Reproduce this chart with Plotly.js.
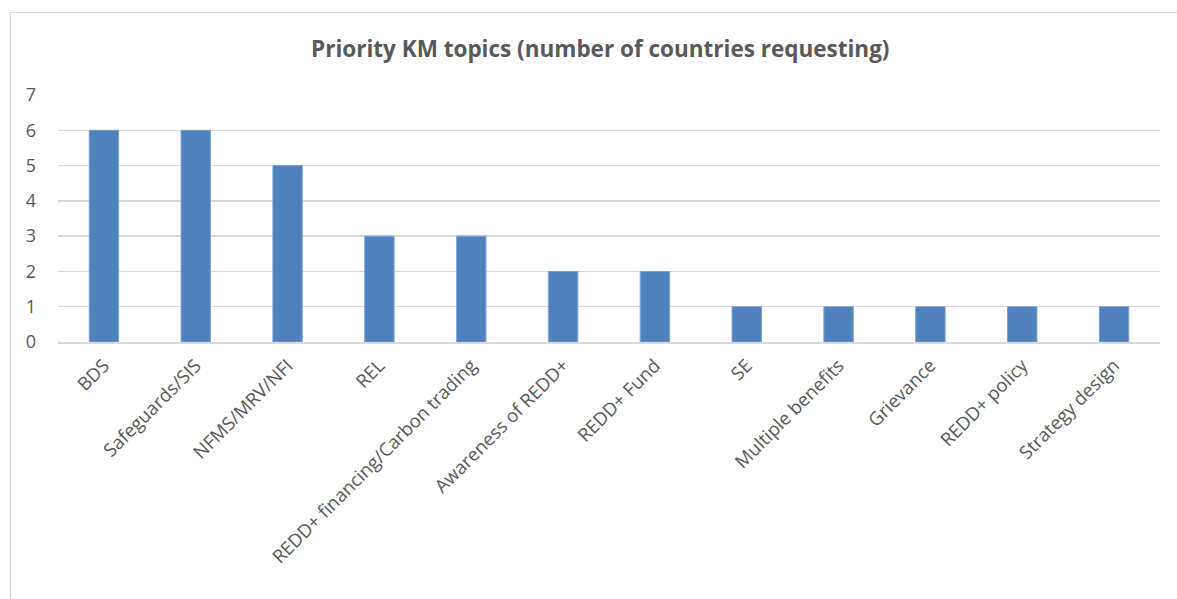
<!DOCTYPE html>
<html>
<head>
<meta charset="utf-8">
<script src="https://cdn.plot.ly/plotly-3.0.1.min.js"></script>
<style>
html,body{margin:0;padding:0;background:#fff;}
#frame{position:absolute;left:10px;top:12px;width:1300px;height:700px;border-left:1.5px solid #d9d9d9;border-top:1.5px solid #d9d9d9;}
#chart{position:absolute;left:0;top:0;width:1177px;height:599px;}
</style>
</head>
<body>
<div id="frame"></div>
<div id="chart"></div>
<script>
const categories = ["BDS","Safeguards/SIS","NFMS/MRV/NFI","REL","REDD+ financing/Carbon trading","Awareness of REDD+","REDD+ Fund","SE","Multiple benefits","Grievance","REDD+ policy","Strategy design"];
const countries = [6,6,5,3,3,2,2,1,1,1,1,1];
const yTicks = [0,1,2,3,4,5,6,7];

const font = "Open Sans, Liberation Sans, sans-serif";
Plotly.newPlot("chart", [{
  type: "bar",
  x: categories,
  y: countries,
  marker: {color: "#4f81bd", line: {color: "#7ea3d3", width: 1}},
  hoverinfo: "x+y"
}], {
  width: 1177, height: 599,
  margin: {l: 58, r: 17, t: 95, b: 257},
  paper_bgcolor: "rgba(0,0,0,0)",
  plot_bgcolor: "rgba(0,0,0,0)",
  bargap: 0.68,
  showlegend: false,
  title: {text: "<b>Priority KM topics (number of countries requesting)</b>", x: 0.51, xanchor: "center", y: 0.918, yanchor: "middle", font: {family: font, size: 22.5, color: "#595959"}},
  xaxis: {tickangle: -45, tickfont: {family: font, size: 18.5, color: "#595959"}, showgrid: false, showline: true, linecolor: "#d9d9d9", linewidth: 1.5, ticks: "", ticklabelstandoff: 4, fixedrange: true},
  yaxis: {range: [0, 7], tickvals: yTicks, tickfont: {family: font, size: 18, color: "#595959"}, gridcolor: "#d9d9d9", gridwidth: 1.5, zeroline: false, showline: false, ticks: "", ticklabelstandoff: 21, fixedrange: true}
}, {displayModeBar: false, staticPlot: true});
</script>
</body>
</html>
